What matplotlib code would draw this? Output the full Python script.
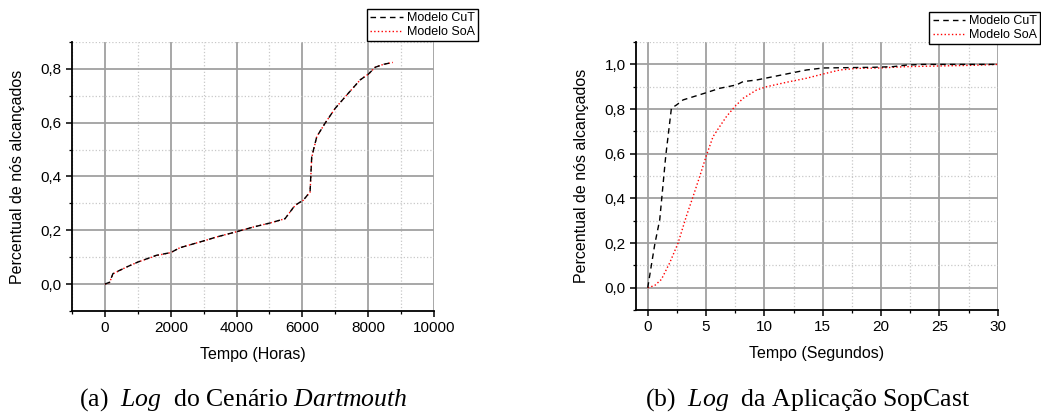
import matplotlib
matplotlib.use("Agg")
import matplotlib.pyplot as plt
from matplotlib.ticker import MultipleLocator, FuncFormatter

# Dartmouth log (horas)
dart_t = [0, 142, 244, 650, 1005, 1563, 2000, 2274, 2985, 3391, 4010, 4508,
          5015, 5472, 5777, 6030, 6234, 6284, 6437, 6690, 6995, 7350, 7756,
          8010, 8213, 8467, 8751]
dart_cut = [0.0, 0.007, 0.039, 0.063, 0.082, 0.107, 0.117, 0.135, 0.160,
            0.175, 0.195, 0.212, 0.227, 0.243, 0.293, 0.312, 0.343, 0.473,
            0.548, 0.598, 0.653, 0.703, 0.759, 0.781, 0.806, 0.817, 0.824]
dart_soa = [0.0, 0.006, 0.038, 0.063, 0.082, 0.106, 0.117, 0.135, 0.160,
            0.175, 0.195, 0.212, 0.227, 0.243, 0.292, 0.312, 0.342, 0.470,
            0.548, 0.598, 0.653, 0.703, 0.759, 0.781, 0.806, 0.817, 0.824]

# SopCast log (segundos)
sop_t_cut = [0, 0.6, 1.03, 1.54, 2.03, 2.46, 3.03, 5, 6.17, 7.6, 8.17, 9.31,
             10.74, 12.46, 13.6, 15.03, 16.46, 19.3, 21.03, 22.17, 23.6, 30]
sop_cut = [0.0, 0.193, 0.305, 0.588, 0.804, 0.818, 0.841, 0.873, 0.893,
           0.908, 0.923, 0.930, 0.945, 0.963, 0.975, 0.984, 0.985, 0.987,
           0.990, 0.997, 1.0, 1.0]
sop_t_soa = [0, 0.6, 1.17, 1.89, 2.6, 3.31, 3.89, 4.46, 5, 5.6, 6.17, 6.74,
             7.46, 8.17, 9.31, 10.17, 12.17, 13.6, 15.03, 16.46, 17.89, 19.89,
             22.17, 25, 27.89, 30]
sop_soa = [0.0, 0.01, 0.037, 0.112, 0.2, 0.32, 0.409, 0.499, 0.588, 0.677,
           0.722, 0.766, 0.811, 0.848, 0.885, 0.9, 0.923, 0.938, 0.957, 0.975,
           0.982, 0.984, 0.99, 0.993, 0.996, 1.0]

ylabel = "Percentual de nós alcançados"

plt.rcParams["font.family"] = ["Liberation Sans", "DejaVu Sans"]
plt.rcParams["mathtext.fontset"] = "custom"
plt.rcParams["mathtext.rm"] = "Liberation Serif"
plt.rcParams["mathtext.it"] = "Liberation Serif:italic"

fig = plt.figure(figsize=(10.41, 4.19), dpi=100)

ax1 = fig.add_axes([0.0692, 0.2578, 0.3477, 0.642])
ax2 = fig.add_axes([0.611, 0.260, 0.3475, 0.6396])

comma = FuncFormatter(lambda v, p: f"{v:.1f}".replace(".", ","))


def style(ax, xmaj, xmin, ymaj=0.2, ymin=0.1):
    ax.xaxis.set_major_locator(MultipleLocator(xmaj))
    ax.xaxis.set_minor_locator(MultipleLocator(xmin))
    ax.yaxis.set_major_locator(MultipleLocator(ymaj))
    ax.yaxis.set_minor_locator(MultipleLocator(ymin))
    ax.yaxis.set_major_formatter(comma)
    ax.grid(which="major", color="#a0a0a0", linewidth=1.3, linestyle="-")
    ax.grid(which="minor", color="#c8c8c8", linewidth=0.9, linestyle=":")
    ax.set_axisbelow(True)
    for s in ["top", "right"]:
        ax.spines[s].set_visible(False)
    for s in ["left", "bottom"]:
        ax.spines[s].set_linewidth(1.3)
    ax.tick_params(which="major", direction="out", length=4, width=1.1,
                   labelsize=11, colors="black")
    ax.tick_params(which="minor", direction="out", length=2.5, width=0.9)


ax1.plot(dart_t, dart_soa, color="red", linestyle=":", linewidth=1.0,
         label="Modelo SoA")
ax1.plot(dart_t, dart_cut, color="black", linestyle=(0, (4, 3)),
         linewidth=1.0, label="Modelo CuT")
ax1.set_xlim(-1000, 10000)
ax1.set_ylim(-0.1, 0.9)
style(ax1, 2000, 1000)
ax1.set_xlabel("Tempo (Horas)", fontsize=11.5, labelpad=8)
ax1.set_ylabel(ylabel, fontsize=11.5, labelpad=11)

ax2.plot(sop_t_soa, sop_soa, color="red", linestyle=":", linewidth=1.0,
         label="Modelo SoA")
ax2.plot(sop_t_cut, sop_cut, color="black", linestyle=(0, (4, 3)),
         linewidth=1.0, label="Modelo CuT")
ax2.set_xlim(-1, 30)
ax2.set_ylim(-0.1, 1.1)
style(ax2, 5, 2.5)
ax2.set_xlabel("Tempo (Segundos)", fontsize=11.5, labelpad=8)
ax2.set_ylabel(ylabel, fontsize=11.5, labelpad=11)

for ax, anchor in [(ax1, (0.459, 0.9785)), (ax2, (0.999, 0.971))]:
    h, l = ax.get_legend_handles_labels()
    leg = fig.legend(h[::-1], l[::-1], loc="upper right", bbox_to_anchor=anchor,
                     fontsize=9, frameon=True, fancybox=False, framealpha=1,
                     edgecolor="black", handlelength=2.6, handletextpad=0.3,
                     borderpad=0.25, labelspacing=0.15, borderaxespad=0)
    leg.get_frame().set_linewidth(1.0)

cap = dict(fontsize=18.5, va="baseline", ha="left",
           family=["Liberation Serif", "DejaVu Serif"])
fig.text(79 / 1041, 0.033, "(a)  $\\it{Log}$  do Cenário $\\it{Dartmouth}$", **cap)
fig.text(645 / 1041, 0.033, "(b)  $\\it{Log}$  da Aplicação SopCast", **cap)

fig.savefig("out.png", dpi=100)
